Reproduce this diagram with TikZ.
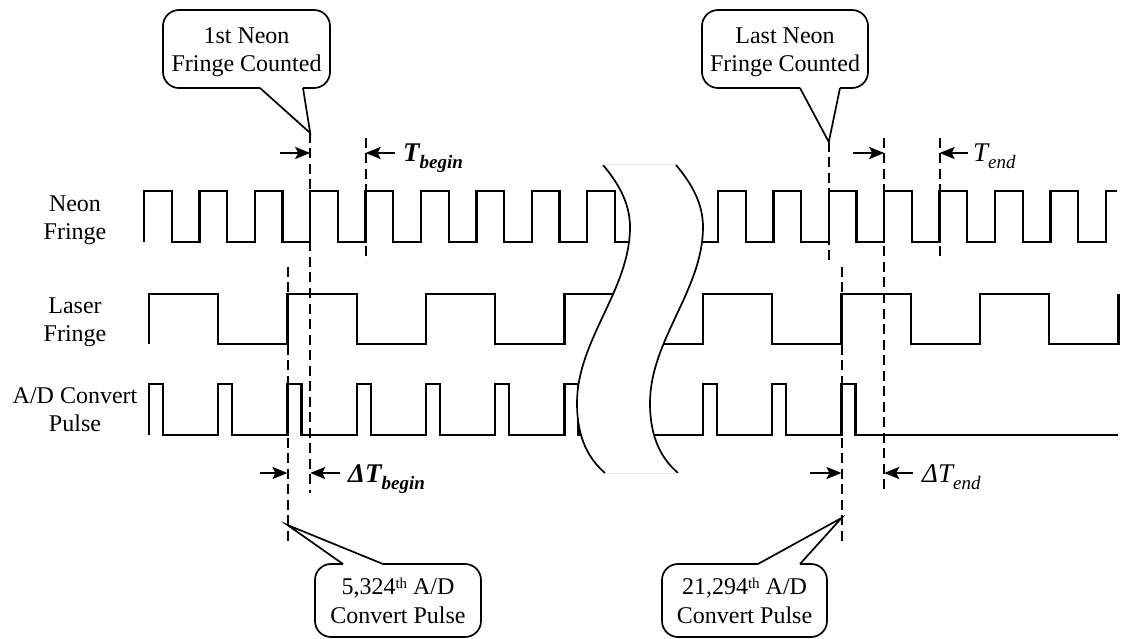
\documentclass[tikz,border=0pt]{standalone}
\usepackage{fontspec}
\setmainfont{Liberation Serif}
\usetikzlibrary{arrows.meta}
\newcommand\mysub[1]{\raisebox{-7pt}{\fontsize{19}{19}\selectfont #1}}
\newcommand\mysup[1]{\raisebox{6pt}{\fontsize{15}{15}\selectfont #1}}
\begin{document}
\begin{tikzpicture}[x=1pt,y=-1pt,
  sig/.style={line width=2.3pt,line join=miter},
  guide/.style={line width=2pt,dash pattern=on 10pt off 5.5pt},
  dim/.style={line width=2.2pt,-{Stealth[length=15pt,width=12pt,inset=3pt]}},
  lbl/.style={font=\fontsize{24}{28.5}\selectfont,align=center,inner sep=0pt},
  bubble/.style={line width=1.7pt,line join=miter},
  brk/.style={line width=1.7pt},
  tlbl/.style={anchor=base west,inner sep=0pt,font=\fontsize{27}{27}\selectfont\itshape},
  tbold/.style={tlbl,font=\fontsize{27}{27}\selectfont\bfseries\itshape},
]
\useasboundingbox (0,0) rectangle (1125,639);

% ---- row labels
\node[lbl] (lneon) at (75,220) {Neon\\Fringe};
\node[lbl] (llaser) at (75,322) {Laser\\Fringe};
\node[lbl] (lad) at (75,409.5) {A/D Convert\\Pulse};

% ---- Neon fringe
\draw[sig] (144,242) \foreach \k in {0,...,8} { -- ({144+55.4*\k},242) -- ({144+55.4*\k},191) -- ({171.7+55.4*\k},191) -- ({171.7+55.4*\k},242) } -- (640,242);
\draw[sig] (660,242) \foreach \k in {0,...,6} { -- ({718+55.4*\k},242) -- ({718+55.4*\k},191) -- ({745.7+55.4*\k},191) -- ({745.7+55.4*\k},242) } -- (1105.8,242) -- (1105.8,191) -- (1117,191);

% ---- Laser fringe
\draw[sig] (149,344) \foreach \k in {0,1,2} { -- ({149+138.5*\k},344) -- ({149+138.5*\k},294) -- ({218.25+138.5*\k},294) -- ({218.25+138.5*\k},344) } -- (564.5,344) -- (564.5,294) -- (630,294);
\draw[sig] (655,344) \foreach \k in {4,5,6} { -- ({149+138.5*\k},344) -- ({149+138.5*\k},294) -- ({218.25+138.5*\k},294) -- ({218.25+138.5*\k},344) } -- (1118.5,344) -- (1118.5,294);

% ---- A/D convert pulse
\draw[sig] (149,435) \foreach \j in {0,...,6} { -- ({149+69.25*\j},435) -- ({149+69.25*\j},384) -- ({163+69.25*\j},384) -- ({163+69.25*\j},435) } -- (640,435);
\draw[sig] (640,435) \foreach \j in {8,9,10} { -- ({149+69.25*\j},435) -- ({149+69.25*\j},384) -- ({163+69.25*\j},384) -- ({163+69.25*\j},435) } -- (1118,435);

% ---- break
\fill[white] (603,165) .. controls (620,185) and (630,205) .. (630,227) .. controls (630,290) and (577,340) .. (577,403) .. controls (577,440) and (590,460) .. (605,473) -- (678,473) .. controls (663,460) and (650,440) .. (650,403) .. controls (650,340) and (703,290) .. (703,227) .. controls (703,205) and (693,185) .. (676,165) -- cycle;
\draw[brk] (603,165) .. controls (620,185) and (630,205) .. (630,227) .. controls (630,290) and (577,340) .. (577,403) .. controls (577,440) and (590,460) .. (605,473);
\draw[brk] (676,165) .. controls (693,185) and (703,205) .. (703,227) .. controls (703,290) and (650,340) .. (650,403) .. controls (650,440) and (663,460) .. (678,473);
\draw[black!8,line width=1pt] (603,165) -- (676,165) (605,473) -- (678,473);

% ---- guide lines
\coordinate (g1t) at (310.2,133);  \coordinate (g1b) at (310.2,493);
\coordinate (g2t) at (365.6,138);  \coordinate (g2b) at (365.6,262);
\coordinate (g3t) at (287.5,267);  \coordinate (g3b) at (287.5,545);
\coordinate (g4t) at (828.8,142);  \coordinate (g4b) at (828.8,262);
\coordinate (g5t) at (884.2,138);  \coordinate (g5b) at (884.2,493);
\coordinate (g6t) at (939.6,138);  \coordinate (g6b) at (939.6,262);
\coordinate (g7t) at (841.5,267);  \coordinate (g7b) at (841.5,545);
\foreach \g in {1,...,7} { \draw[guide] (g\g t) -- (g\g b); }

% ---- dimension arrows
\coordinate (a1) at (280,153); \coordinate (a2) at (395,153);
\coordinate (a3) at (853,153); \coordinate (a4) at (968,153);
\coordinate (a5) at (260,473); \coordinate (a6) at (340,473);
\coordinate (a7) at (810,473); \coordinate (a8) at (913,473);
\draw[dim] (a1) -- (a1 -| g1t);
\draw[dim] (a2) -- (a2 -| g2t);
\draw[dim] (a3) -- (a3 -| g5t);
\draw[dim] (a4) -- (a4 -| g6t);
\draw[dim] (a5) -- (a5 -| g3t);
\draw[dim] (a6) -- (a6 -| g1t);
\draw[dim] (a7) -- (a7 -| g7t);
\draw[dim] (a8) -- (a8 -| g5t);

\node[tbold] (tb) at (403,162) {T\mysub{begin}};
\node[tlbl] (te) at (973,162) {T\mysub{end}};
\node[tbold] (dtb) at (348,482) {ΔT\mysub{begin}};
\node[tlbl] (dte) at (922,482) {ΔT\mysub{end}};

% ---- callouts
\node[lbl] (c1) at (246.5,52) {1st Neon\\Fringe Counted};
\draw[bubble,rounded corners=16pt] (303,88) -- (330,88) -- (330,10) -- (163,10) -- (163,88) -- (260,88);
\draw[bubble] (260,88) -- (g1t) -- (303,88);

\node[lbl] (c2) at (785,52) {Last Neon\\Fringe Counted};
\draw[bubble,rounded corners=16pt] (840,88) -- (868,88) -- (868,10) -- (702,10) -- (702,88) -- (800,88);
\draw[bubble] (800,88) -- (g4t) -- (840,88);

\coordinate (p3) at (287.5,525);
\node[lbl] (c3) at (398,601) {5,324\mysup{th} A/D\\Convert Pulse};
\draw[bubble,rounded corners=16pt] (343,564) -- (315,564) -- (315,637) -- (481,637) -- (481,564) -- (383,564);
\draw[bubble] (343,564) -- (p3) -- (383,564);

\coordinate (p4) at (841.5,518);
\node[lbl] (c4) at (744.5,601) {21,294\mysup{th} A/D\\Convert Pulse};
\draw[bubble,rounded corners=16pt] (758,564) -- (662,564) -- (662,637) -- (827,637) -- (827,564) -- (800,564);
\draw[bubble] (758,564) -- (p4) -- (800,564);
\end{tikzpicture}
\end{document}
